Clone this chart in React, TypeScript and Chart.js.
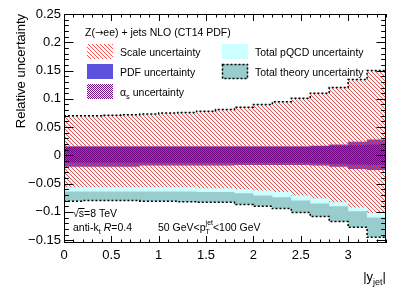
import React, { useEffect, useRef } from "react";
import { Chart, registerables } from "chart.js";

Chart.register(...registerables);

// ---- data (bins of |y_jet|, width 0.2) ----
const binEdges = [0, 0.2, 0.4, 0.6, 0.8, 1.0, 1.2, 1.4, 1.6, 1.8, 2.0, 2.2, 2.4, 2.6, 2.8, 3.0, 3.2, 3.4];

const theoryUp = [0.070, 0.070, 0.071, 0.072, 0.073, 0.075, 0.076, 0.078, 0.081, 0.085, 0.090, 0.095, 0.101, 0.110, 0.120, 0.134, 0.150];
const theoryLo = [-0.081, -0.080, -0.080, -0.080, -0.081, -0.081, -0.082, -0.083, -0.083, -0.087, -0.090, -0.094, -0.101, -0.108, -0.117, -0.127, -0.145];

const pqcdUp = [0.070, 0.070, 0.071, 0.072, 0.073, 0.075, 0.076, 0.078, 0.081, 0.085, 0.090, 0.095, 0.101, 0.110, 0.120, 0.134, 0.150];
const pqcdLo = [-0.064, -0.064, -0.064, -0.064, -0.064, -0.064, -0.064, -0.065, -0.065, -0.067, -0.071, -0.074, -0.080, -0.085, -0.090, -0.099, -0.110];

const scaleUp = [0.069, 0.069, 0.070, 0.071, 0.072, 0.074, 0.075, 0.077, 0.080, 0.084, 0.089, 0.094, 0.100, 0.109, 0.119, 0.133, 0.149];
const scaleLo = [-0.0565, -0.0565, -0.0565, -0.0565, -0.0565, -0.0565, -0.0565, -0.058, -0.058, -0.060, -0.062, -0.065, -0.071, -0.076, -0.083, -0.092, -0.102];

const pdfUp = [0.016, 0.016, 0.016, 0.016, 0.016, 0.016, 0.016, 0.016, 0.016, 0.016, 0.016, 0.016, 0.016, 0.017, 0.019, 0.024, 0.028];
const pdfLo = [-0.020, -0.020, -0.020, -0.020, -0.018, -0.018, -0.018, -0.018, -0.018, -0.017, -0.017, -0.017, -0.017, -0.018, -0.020, -0.024, -0.026];

const alphasUp = [0.015, 0.015, 0.015, 0.015, 0.015, 0.015, 0.015, 0.015, 0.015, 0.015, 0.015, 0.015, 0.015, 0.016, 0.017, 0.018, 0.019];
const alphasLo = [-0.013, -0.013, -0.013, -0.013, -0.013, -0.013, -0.013, -0.013, -0.013, -0.013, -0.013, -0.013, -0.013, -0.014, -0.015, -0.016, -0.017];

const xTickValues = [0, 0.5, 1, 1.5, 2, 2.5, 3];
const xTickLabels = ["0", "0.5", "1", "1.5", "2", "2.5", "3"];
const yTickValues = [-0.15, -0.1, -0.05, 0, 0.05, 0.1, 0.15, 0.2, 0.25];
const yTickLabels = ["\u22120.15", "\u22120.1", "\u22120.05", "0", "0.05", "0.1", "0.15", "0.2", "0.25"];

const FONT = '"Liberation Sans", Arial, Helvetica, sans-serif';

const COL_TEAL = "#99cccc";
const COL_CYAN = "#ccffff";
const COL_BLUE = "rgb(92,82,222)";

function toPoints(vals: number[]) {
  return binEdges.map((x, i) => ({ x, y: vals[Math.min(i, vals.length - 1)] }));
}

function makePattern(kind: "hatch" | "check"): CanvasPattern | string {
  const c = document.createElement("canvas");
  const g = c.getContext("2d");
  if (!g) return "red";
  if (kind === "hatch") {
    c.width = 4;
    c.height = 4;
    g.fillStyle = "rgba(255,30,30,0.78)";
    for (let i = 0; i < 4; i++) g.fillRect(i, i, 1, 1);
  } else {
    c.width = 2;
    c.height = 2;
    g.fillStyle = "rgba(110,0,130,0.95)";
    g.fillRect(0, 0, 1, 1);
    g.fillRect(1, 1, 1, 1);
  }
  return g.createPattern(c, "repeat") || "red";
}

type Part = { t: string; size: number; dy?: number; italic?: boolean; noAdvance?: boolean; family?: string };

function fontOf(p: Part) {
  return `${p.italic ? "italic " : ""}${p.size}px ${p.family || FONT}`;
}

function drawParts(ctx: CanvasRenderingContext2D, x: number, y: number, parts: Part[]) {
  let cx = x;
  for (const p of parts) {
    ctx.font = fontOf(p);
    ctx.fillText(p.t, cx, y + (p.dy || 0));
    if (!p.noAdvance) cx += ctx.measureText(p.t).width;
  }
  return cx;
}

function measureParts(ctx: CanvasRenderingContext2D, parts: Part[]) {
  let w = 0;
  for (const p of parts) {
    ctx.font = fontOf(p);
    if (!p.noAdvance) w += ctx.measureText(p.t).width;
  }
  return w;
}

export default function App() {
  const ref = useRef<HTMLCanvasElement | null>(null);

  useEffect(() => {
    document.body.style.margin = "0";
    const canvas = ref.current;
    if (!canvas) return;
    const hatch = makePattern("hatch");
    const check = makePattern("check");

    const base = {
      stepped: true as const,
      pointRadius: 0,
      borderWidth: 0,
      borderColor: "transparent",
      fill: false as any,
    };

    const overlay = {
      id: "rootStyle",
      afterDraw(chart: any) {
        const ctx: CanvasRenderingContext2D = chart.ctx;
        const { left, right, top, bottom } = chart.chartArea;
        const xs = chart.scales.x;
        const ys = chart.scales.y;
        ctx.save();
        // frame + ticks
        ctx.strokeStyle = "#000";
        ctx.lineWidth = 1;
        ctx.beginPath();
        for (let k = 0; k <= 34; k++) {
          const major = k % 5 === 0;
          const len = major ? 7 : 3.5;
          const px = Math.round(xs.getPixelForValue(k / 10)) + 0.5;
          ctx.moveTo(px, bottom);
          ctx.lineTo(px, bottom - len);
          ctx.moveTo(px, top);
          ctx.lineTo(px, top + len);
        }
        for (let k = -15; k <= 25; k++) {
          const major = k % 5 === 0;
          const len = major ? 9.5 : 4.8;
          const py = Math.round(ys.getPixelForValue(k / 100)) + 0.5;
          ctx.moveTo(left, py);
          ctx.lineTo(left + len, py);
          ctx.moveTo(right, py);
          ctx.lineTo(right - len, py);
        }
        ctx.stroke();
        ctx.strokeRect(left + 0.5, top + 0.5, right - left - 1, bottom - top - 1);

        ctx.fillStyle = "#000";
        ctx.textBaseline = "alphabetic";
        ctx.textAlign = "left";

        // header
        drawParts(ctx, 85, 36, [
          { t: "Z(", size: 10.5 },
          { t: "\u2192", size: 10, family: '"DejaVu Sans", sans-serif' },
          { t: "ee) + jets NLO (CT14 PDF)", size: 10.5 },
        ]);

        // legend swatches
        const sw = 26, sh = 15;
        const c1 = 87, c2 = 222;
        const rows = [44, 64, 84];
        ctx.fillStyle = hatch as any;
        ctx.fillRect(c1, rows[0], sw, sh);
        ctx.fillStyle = COL_BLUE;
        ctx.fillRect(c1, rows[1], sw, sh);
        ctx.fillStyle = check as any;
        ctx.fillRect(c1, rows[2], sw, sh);
        ctx.fillStyle = COL_CYAN;
        ctx.fillRect(c2, rows[0], sw, sh);
        ctx.fillStyle = COL_TEAL;
        ctx.fillRect(c2, rows[1], sw, sh);
        ctx.setLineDash([2, 2]);
        ctx.lineWidth = 1.5;
        ctx.strokeRect(c2 + 0.5, rows[1] + 0.5, sw - 1, sh - 1);
        ctx.setLineDash([]);
        ctx.lineWidth = 1;

        ctx.fillStyle = "#000";
        const ls = 10.5;
        drawParts(ctx, 120, 56, [{ t: "Scale uncertainty", size: ls }]);
        drawParts(ctx, 120, 76, [{ t: "PDF uncertainty", size: ls }]);
        drawParts(ctx, 120, 96, [
          { t: "\u03b1", size: ls },
          { t: "s", size: 7.5, dy: 2.5 },
          { t: " uncertainty", size: ls },
        ]);
        drawParts(ctx, 255, 56, [{ t: "Total pQCD uncertainty", size: ls }]);
        drawParts(ctx, 255, 76, [{ t: "Total theory uncertainty", size: ls }]);

        // bottom-left labels
        const bs = 10.5;
        let cx = drawParts(ctx, 73, 217, [{ t: "\u221a", size: bs }]);
        ctx.font = `${bs}px ${FONT}`;
        const sW = ctx.measureText("s").width;
        ctx.beginPath();
        ctx.moveTo(cx - 0.5, 208.5);
        ctx.lineTo(cx + sW + 0.5, 208.5);
        ctx.stroke();
        drawParts(ctx, cx, 217, [{ t: "s=8 TeV", size: bs }]);

        drawParts(ctx, 73, 231, [
          { t: "anti-k", size: bs },
          { t: "t", size: 7.5, dy: 2.5 },
          { t: " ", size: bs },
          { t: "R", size: bs, italic: true },
          { t: "=0.4", size: bs },
        ]);
        cx = drawParts(ctx, 158, 231, [{ t: "50 GeV<p", size: bs }]);
        drawParts(ctx, cx, 231, [
          { t: "T", size: 7, dy: 3, noAdvance: true },
          { t: "jet", size: 7, dy: -6 },
          { t: "<100 GeV", size: bs },
        ]);

        // x title
        const xt: Part[] = [
          { t: "|y", size: 13 },
          { t: "jet", size: 9, dy: 4 },
          { t: "|", size: 13 },
        ];
        const w = measureParts(ctx, xt);
        drawParts(ctx, right - w, 281, xt);

        // y title
        ctx.save();
        ctx.translate(25, top);
        ctx.rotate(-Math.PI / 2);
        ctx.textAlign = "right";
        ctx.font = `13px ${FONT}`;
        ctx.fillText("Relative uncertainty", 0, 0);
        ctx.restore();

        ctx.restore();
      },
    };

    const chart = new Chart(canvas, {
      type: "line",
      data: {
        datasets: [
          { ...base, data: toPoints(theoryUp), fill: 1, backgroundColor: COL_TEAL, order: 10 },
          { ...base, data: toPoints(theoryLo), order: 10 },
          { ...base, data: toPoints(pqcdUp), fill: 3, backgroundColor: COL_CYAN, order: 8 },
          { ...base, data: toPoints(pqcdLo), order: 8 },
          { ...base, data: toPoints(scaleUp), fill: 5, backgroundColor: hatch as any, order: 3 },
          { ...base, data: toPoints(scaleLo), order: 3 },
          { ...base, data: toPoints(pdfUp), fill: 7, backgroundColor: COL_BLUE, order: 4 },
          { ...base, data: toPoints(pdfLo), order: 4 },
          { ...base, data: toPoints(alphasUp), fill: 9, backgroundColor: check as any, order: 2 },
          { ...base, data: toPoints(alphasLo), order: 2 },
          { ...base, data: toPoints(theoryUp), borderWidth: 1.5, borderColor: "#000", borderDash: [2, 2], order: 0 },
          { ...base, data: toPoints(theoryLo), borderWidth: 1.5, borderColor: "#000", borderDash: [2, 2], order: 0 },
        ] as any,
      },
      options: {
        animation: false,
        responsive: false,
        maintainAspectRatio: false,
        layout: { padding: { top: 14, right: 21, left: 0, bottom: 0 } },
        plugins: { legend: { display: false }, tooltip: { enabled: false } },
        scales: {
          x: {
            type: "linear",
            min: 0,
            max: 3.4,
            grid: { display: false, drawTicks: false },
            border: { display: false },
            afterFit: (s: any) => {
              s.height = 50;
            },
            afterBuildTicks: (s: any) => {
              s.ticks = xTickValues.map((v) => ({ value: v }));
            },
            ticks: {
              padding: 5,
              color: "#000",
              font: { family: FONT, size: 13 },
              maxRotation: 0,
              autoSkip: false,
              callback: (_v: any, i: number) => xTickLabels[i],
            },
          },
          y: {
            type: "linear",
            min: -0.155,
            max: 0.25,
            grid: { display: false, drawTicks: false },
            border: { display: false },
            afterFit: (s: any) => {
              s.width = 64;
            },
            afterBuildTicks: (s: any) => {
              s.ticks = yTickValues.map((v) => ({ value: v }));
            },
            ticks: {
              padding: 3,
              color: "#000",
              font: { family: FONT, size: 13 },
              autoSkip: false,
              callback: (_v: any, i: number) => yTickLabels[i],
            },
          },
        },
      },
      plugins: [overlay],
    });
    return () => chart.destroy();
  }, []);

  return (
    <div style={{ width: 407, height: 293 }}>
      <canvas ref={ref} width={407} height={293} style={{ display: "block" }} />
    </div>
  );
}
